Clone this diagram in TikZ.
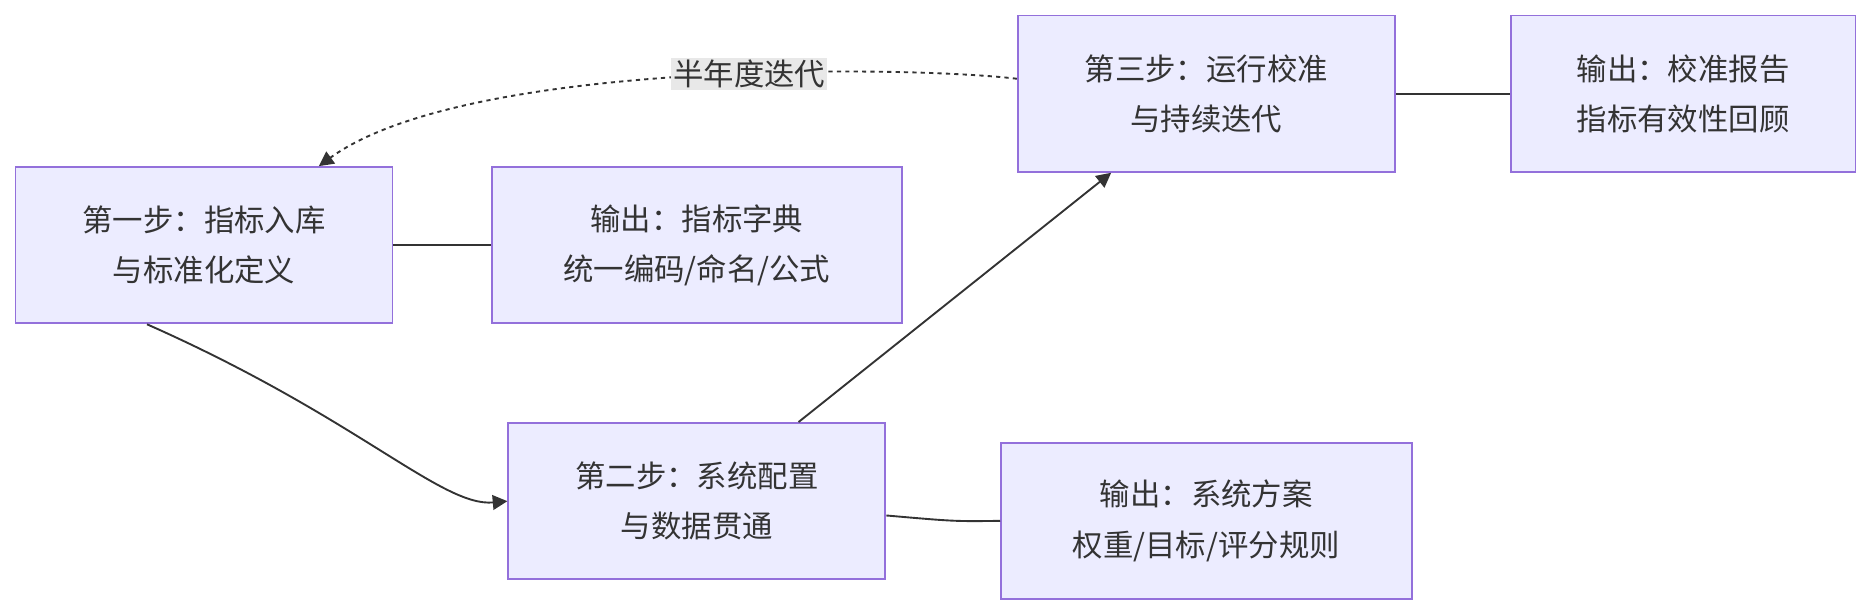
\documentclass[tikz,border=0pt]{standalone}
\usepackage{fontspec}
\newfontfamily\cjk{Noto Sans CJK SC}
\usetikzlibrary{arrows.meta}
\definecolor{bfill}{HTML}{ECECFF}
\definecolor{bdraw}{HTML}{9370DB}
\definecolor{txt}{HTML}{333333}
\definecolor{lbl}{HTML}{E8E8E8}
\begin{document}
\begin{tikzpicture}[x=0.02cm,y=-0.02cm,
  box/.style={draw=bdraw,fill=bfill,line width=0.9pt,text=txt,align=center,font=\cjk\fontsize{14.5}{24}\selectfont,inner sep=0pt,minimum height=2.62cm},
  conn/.style={draw=txt,line width=0.9pt},
  arr/.style={-{Triangle[length=7pt,width=7pt]}}]
\useasboundingbox (0,0) rectangle (1568,516);
\node[box,minimum width=6.32cm] (A) at (171,205.5) {第一步：指标入库\\与标准化定义};
\node[box,minimum width=6.88cm] (B) at (584,205.5) {输出：指标字典\\统一编码/命名/公式};
\node[box,minimum width=6.32cm] (C) at (584,420) {第二步：系统配置\\与数据贯通};
\node[box,minimum width=6.88cm] (D) at (1011,436.5) {输出：系统方案\\权重/目标/评分规则};
\node[box,minimum width=6.32cm] (E) at (1011,78.5) {第三步：运行校准\\与持续迭代};
\node[box,minimum width=5.78cm] (F) at (1410.5,78.5) {输出：校准报告\\指标有效性回顾};
\draw[conn] (A.east) -- (B.west);
\draw[conn] (E.east) -- (F.west);
\draw[conn,arr] ([xshift=2.22cm]A.south west) .. controls (300,350) and (370,425) .. (C.west);
\draw[conn,arr] ([xshift=4.88cm]C.north west) -- ([xshift=1.58cm]E.south west);
\draw[conn] ([yshift=-0.24cm]C.east) .. controls (800,437) .. (D.west);
\draw[conn,dashed,dash pattern=on 2pt off 2pt,arr] ([yshift=0.25cm]E.west) .. controls (760,55) and (390,50) .. ([xshift=5.1cm]A.north west)
  node[pos=0.42,fill=lbl,text=txt,font=\cjk\fontsize{14.5}{18}\selectfont,inner sep=1pt] {半年度迭代};
\end{tikzpicture}
\end{document}
